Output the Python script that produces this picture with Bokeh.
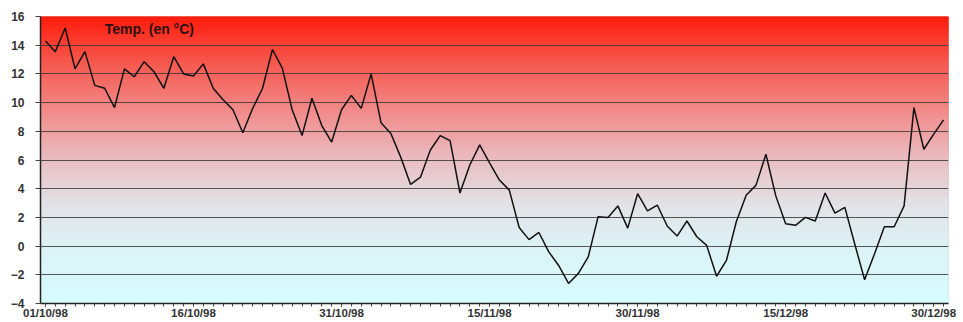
import numpy as np
from bokeh.plotting import figure
from bokeh.models import Range1d, FixedTicker, Label
from bokeh.embed import file_html
from bokeh.resources import INLINE

# ---- data ----
day_index = list(range(92))  # 01/10/98 .. 31/12/98
temps = [
    14.3, 13.55, 15.2, 12.35, 13.55, 11.2, 11.0, 9.65, 12.35, 11.8,
    12.85, 12.15, 11.0, 13.2, 12.0, 11.85, 12.7, 11.0, 10.2, 9.5,
    7.9, 9.6, 11.0, 13.7, 12.4, 9.5, 7.7, 10.3, 8.4, 7.25,
    9.5, 10.5, 9.6, 12.0, 8.6, 7.85, 6.2, 4.3, 4.8, 6.7,
    7.7, 7.35, 3.7, 5.65, 7.05, 5.8, 4.6, 3.9, 1.3, 0.45,
    0.95, -0.4, -1.35, -2.6, -1.9, -0.75, 2.05, 2.0, 2.8, 1.25,
    3.65, 2.45, 2.85, 1.4, 0.7, 1.75, 0.65, 0.05, -2.1, -1.0,
    1.7, 3.55, 4.25, 6.4, 3.5, 1.55, 1.45, 2.0, 1.75, 3.7,
    2.3, 2.7, 0.15, -2.35, -0.55, 1.35, 1.35, 2.8, 9.65, 6.75,
    7.8, 8.8,
]
tick_days = [0, 15, 30, 45, 60, 75, 90]
tick_labels = ["01/10/98", "16/10/98", "31/10/98", "15/11/98", "30/11/98", "15/12/98", "30/12/98"]
y_ticks = [-4, -2, 0, 2, 4, 6, 8, 10, 12, 14, 16]
grid_ticks = [-2, 0, 2, 4, 6, 8, 10, 12, 14]
title_text = "Temp. (en °C)"

Y_MIN, Y_MAX = -4, 16
X_MIN, X_MAX = -0.5, 91.5

p = figure(width=956, height=322, output_backend="svg", toolbar_location=None,
           x_range=Range1d(X_MIN, X_MAX), y_range=Range1d(Y_MIN, Y_MAX),
           min_border_left=40, min_border_right=8, min_border_top=16, min_border_bottom=19)
p.background_fill_color = "white"
p.border_fill_color = "white"
p.outline_line_color = "#c8c8c8"

# ---- gradient background ----
stop_vals = [-4, 0, 3, 6, 9, 13, 16]
stop_r = [214, 220, 226, 233, 240, 246, 255]
stop_g = [252, 242, 226, 190, 145, 85, 28]
stop_b = [255, 245, 230, 195, 145, 75, 12]
n_bands = 160
edges = np.linspace(Y_MIN, Y_MAX, n_bands + 1)
mids = (edges[:-1] + edges[1:]) / 2
cols = []
for m in mids:
    r = int(round(np.interp(m, stop_vals, stop_r)))
    g = int(round(np.interp(m, stop_vals, stop_g)))
    b = int(round(np.interp(m, stop_vals, stop_b)))
    cols.append("#%02x%02x%02x" % (r, g, b))
p.quad(left=X_MIN, right=X_MAX, bottom=edges[:-1], top=edges[1:],
       fill_color=cols, line_color=cols, line_width=1.2, level="image")

# ---- grid ----
p.xgrid.grid_line_color = None
p.ygrid.ticker = FixedTicker(ticks=grid_ticks)
p.ygrid.grid_line_color = "#3a3a3a"
p.ygrid.grid_line_alpha = 0.85
p.ygrid.grid_line_width = 1
p.ygrid.level = "underlay"

# ---- line ----
p.line(day_index, temps, line_color="#111111", line_width=1.5)

# ---- axes ----
xa = p.xaxis[0]
xa.ticker = FixedTicker(ticks=tick_days, minor_ticks=day_index)
xa.major_label_overrides = {d: l for d, l in zip(tick_days, tick_labels)}
xa.axis_line_color = "#222222"
xa.axis_line_width = 1.5
xa.major_tick_out = 3
xa.major_tick_in = 0
xa.minor_tick_out = 3
xa.minor_tick_in = 0
xa.major_tick_line_color = "#444444"
xa.minor_tick_line_color = "#444444"
xa.major_label_standoff = 0
xa.major_label_text_font = "Liberation Sans"
xa.major_label_text_font_style = "bold"
xa.major_label_text_font_size = "11.5px"
xa.major_label_text_color = "#333333"

ya = p.yaxis[0]
ya.ticker = FixedTicker(ticks=y_ticks)
ya.axis_line_color = "#222222"
ya.axis_line_width = 1.5
ya.major_tick_out = 5
ya.major_tick_in = 0
ya.minor_tick_line_color = None
ya.major_tick_line_color = "#444444"
ya.major_label_standoff = 11
ya.major_label_text_font = "Liberation Sans"
ya.major_label_text_font_style = "bold"
ya.major_label_text_font_size = "12px"
ya.major_label_text_color = "#333333"

# ---- in-plot title ----
p.add_layout(Label(x=6, y=15.1, text=title_text, text_font="Liberation Sans",
                   text_font_style="bold", text_font_size="14px",
                   text_color="#2a1010", text_align="left", text_baseline="middle"))

open("out.html", "w").write(file_html(p, INLINE))
